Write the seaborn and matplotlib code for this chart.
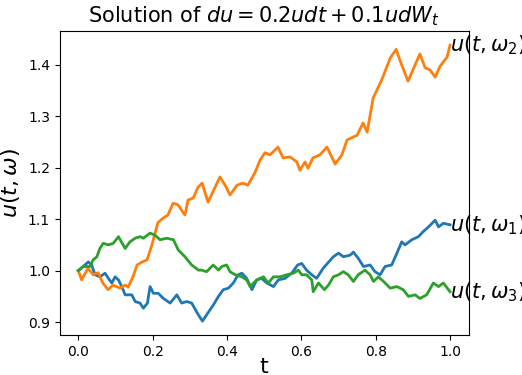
import matplotlib
matplotlib.use("Agg")
import matplotlib.pyplot as plt
import seaborn as sns
import pandas as pd

t1 = [0.0, 0.013, 0.027, 0.036, 0.045, 0.058, 0.072, 0.081, 0.090, 0.099, 0.108, 0.117, 0.126, 0.144,
      0.153, 0.166, 0.175, 0.186, 0.193, 0.202, 0.215, 0.229, 0.247, 0.265, 0.278, 0.292, 0.305, 0.323,
      0.334, 0.345, 0.363, 0.377, 0.390, 0.404, 0.417, 0.430, 0.440, 0.453, 0.467, 0.480, 0.493, 0.507,
      0.525, 0.538, 0.556, 0.574, 0.590, 0.601, 0.614, 0.628, 0.641, 0.659, 0.686, 0.700, 0.713, 0.731,
      0.740, 0.753, 0.767, 0.785, 0.798, 0.812, 0.825, 0.843, 0.857, 0.870, 0.879, 0.897, 0.915, 0.928,
      0.942, 0.960, 0.969, 0.982, 1.0]
u1 = [1.0, 1.008, 1.017, 1.011, 0.992, 0.988, 0.995, 0.985, 0.976, 0.988, 0.982, 0.969, 0.953, 0.953,
      0.940, 0.937, 0.927, 0.937, 0.969, 0.956, 0.956, 0.946, 0.937, 0.953, 0.937, 0.940, 0.937, 0.914,
      0.902, 0.914, 0.933, 0.950, 0.963, 0.966, 0.976, 0.992, 0.995, 0.985, 0.963, 0.982, 0.985, 0.976,
      0.969, 0.982, 0.985, 0.995, 1.011, 1.014, 1.001, 0.992, 0.985, 1.005, 1.027, 1.034, 1.027, 1.030,
      1.036, 1.024, 1.008, 1.011, 0.998, 0.992, 1.008, 1.011, 1.034, 1.056, 1.050, 1.060, 1.066, 1.076,
      1.085, 1.098, 1.085, 1.092, 1.089]

t2 = [0.0, 0.009, 0.026, 0.040, 0.053, 0.066, 0.080, 0.093, 0.112, 0.126, 0.134, 0.147, 0.158, 0.172,
      0.185, 0.198, 0.214, 0.228, 0.241, 0.255, 0.268, 0.287, 0.295, 0.309, 0.322, 0.333, 0.349, 0.362,
      0.381, 0.395, 0.408, 0.427, 0.443, 0.456, 0.475, 0.489, 0.502, 0.516, 0.537, 0.551, 0.570, 0.588,
      0.596, 0.610, 0.618, 0.631, 0.650, 0.669, 0.691, 0.709, 0.723, 0.750, 0.766, 0.777, 0.785, 0.793,
      0.817, 0.839, 0.855, 0.865, 0.887, 0.900, 0.919, 0.933, 0.946, 0.960, 0.973, 0.992, 1.0]
u2 = [1.0, 0.982, 1.005, 0.992, 0.996, 0.976, 0.963, 0.972, 0.966, 0.972, 0.968, 0.988, 1.011, 1.017,
      1.021, 1.050, 1.093, 1.102, 1.108, 1.131, 1.128, 1.108, 1.137, 1.141, 1.162, 1.170, 1.133, 1.153,
      1.182, 1.166, 1.147, 1.166, 1.170, 1.166, 1.190, 1.215, 1.229, 1.225, 1.240, 1.219, 1.221, 1.211,
      1.195, 1.211, 1.199, 1.219, 1.225, 1.240, 1.207, 1.225, 1.254, 1.263, 1.287, 1.269, 1.302, 1.335,
      1.372, 1.413, 1.430, 1.409, 1.368, 1.390, 1.421, 1.394, 1.390, 1.376, 1.397, 1.415, 1.438]

t3 = [0.0, 0.013, 0.031, 0.040, 0.050, 0.058, 0.067, 0.081, 0.094, 0.108, 0.126, 0.139, 0.153, 0.166,
      0.175, 0.193, 0.206, 0.220, 0.238, 0.256, 0.269, 0.287, 0.305, 0.323, 0.332, 0.345, 0.363, 0.377,
      0.386, 0.399, 0.408, 0.422, 0.440, 0.453, 0.462, 0.480, 0.498, 0.511, 0.525, 0.543, 0.561, 0.578,
      0.592, 0.601, 0.614, 0.628, 0.632, 0.646, 0.662, 0.673, 0.686, 0.700, 0.713, 0.726, 0.740, 0.753,
      0.771, 0.785, 0.794, 0.807, 0.821, 0.839, 0.857, 0.874, 0.888, 0.906, 0.919, 0.937, 0.955, 0.969,
      0.982, 1.0]
u3 = [1.0, 1.008, 1.008, 1.021, 1.027, 1.043, 1.053, 1.050, 1.053, 1.066, 1.043, 1.056, 1.063, 1.066,
      1.063, 1.073, 1.069, 1.060, 1.063, 1.060, 1.040, 1.027, 1.011, 1.001, 1.001, 0.998, 1.011, 1.001,
      1.008, 1.011, 0.998, 0.992, 0.988, 0.982, 0.969, 0.982, 0.988, 0.976, 0.988, 0.988, 0.992, 0.995,
      1.001, 0.992, 0.992, 0.982, 0.959, 0.976, 0.963, 0.972, 0.988, 0.992, 0.998, 0.992, 0.979, 0.992,
      1.001, 0.992, 0.979, 0.988, 0.979, 0.966, 0.969, 0.963, 0.950, 0.953, 0.946, 0.953, 0.976, 0.969,
      0.976, 0.959]

labels = [r"$u(t,\omega_1)$", r"$u(t,\omega_2)$", r"$u(t,\omega_3)$"]
colors = ["#1f77b4", "#ff7f0e", "#2ca02c"]
series = [(t1, u1), (t2, u2), (t3, u3)]

fig = plt.figure(figsize=(5.22, 3.75), dpi=100)
ax = fig.add_axes([0.1144, 0.1067, 0.7834, 0.8106])

for (tt, uu), lab, c in zip(series, labels, colors):
    df = pd.DataFrame({"t": tt, "u": uu})
    sns.lineplot(data=df, x="t", y="u", ax=ax, color=c, linewidth=2.0, estimator=None, sort=False)
    ax.text(tt[-1], uu[-1], lab, fontsize=15, va="center", ha="left", clip_on=False)

ax.set_xlim(-0.05, 1.05)
ax.set_ylim(0.875, 1.4655)
ax.set_xticks([0.0, 0.2, 0.4, 0.6, 0.8, 1.0])
ax.set_yticks([0.9, 1.0, 1.1, 1.2, 1.3, 1.4])
ax.set_xlabel("t", fontsize=16, labelpad=-1)
ax.set_ylabel(r"$u(t,\omega)$", fontsize=16)
ax.set_title(r"Solution of $du = 0.2udt + 0.1udW_t$", fontsize=15)

fig.savefig("out.png", dpi=100)
